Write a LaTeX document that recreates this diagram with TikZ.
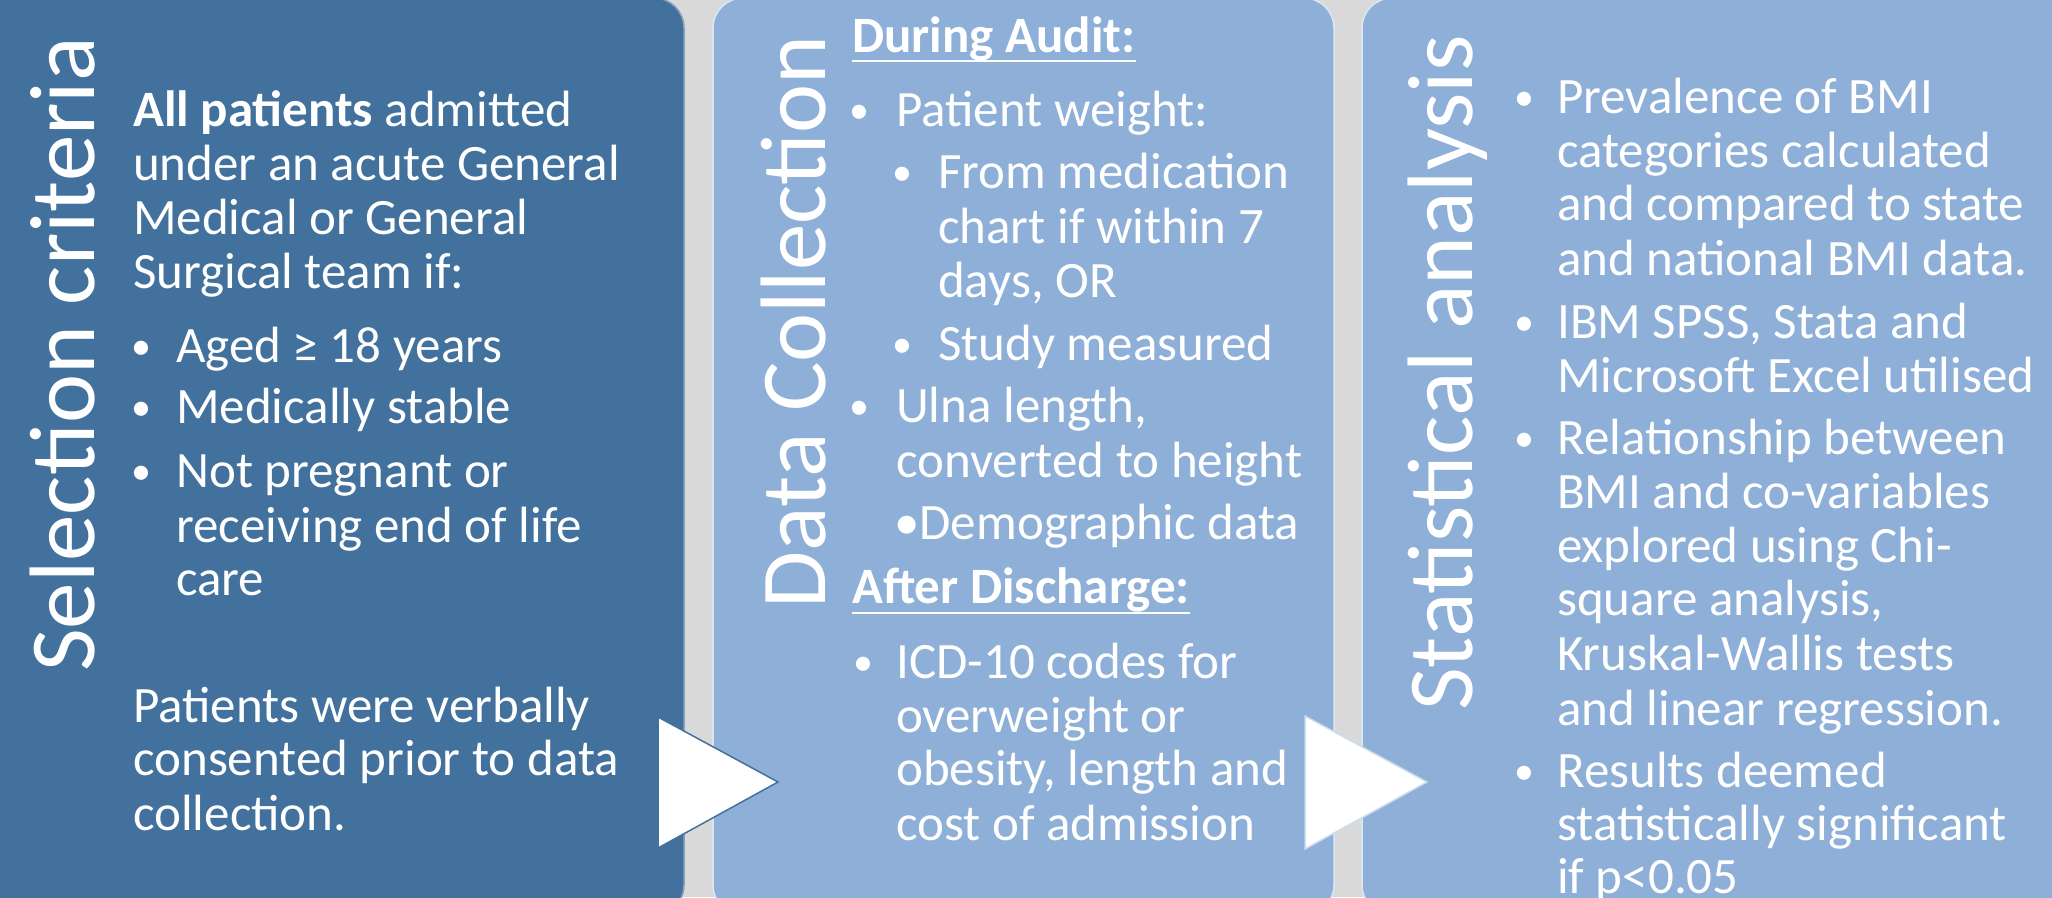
\documentclass[tikz,border=0pt]{standalone}
\usepackage{fontspec}
\setmainfont{Carlito}
\definecolor{darkbox}{RGB}{65,113,156}
\definecolor{lightbox}{RGB}{142,175,215}
\definecolor{gapgray}{RGB}{217,217,217}
\begin{document}
\begin{tikzpicture}[x=1pt,y=-1pt,
  panel/.style={rounded corners=30pt, line width=1.5pt},
  titletext/.style={text=white, font=\fontsize{93}{100}\selectfont, inner sep=0pt, rotate=90, anchor=base east},
  body/.style={text=white, font=\fontsize{51}{54}\selectfont, inner sep=0pt, anchor=base west},
  head/.style={body, font=\fontsize{51}{54}\selectfont\bfseries},
  bul/.style={text=white, font=\fontsize{40}{42}\selectfont, inner sep=0pt, anchor=base, yshift=3pt},
  uline/.style={draw=white, line width=2.5pt},
  pointer/.style={fill=white, line width=1.5pt, line join=miter}]

\useasboundingbox (0,0) rectangle (2052,897);
\clip (0,0) rectangle (2052,897);
\fill[gapgray] (0,0) rectangle (2052,897);

% three panels
\draw[panel, fill=darkbox, draw=white!35!darkbox] (-40,-2) rectangle (684,915);
\draw[panel, fill=lightbox, draw=white!70!lightbox] (713,-2) rectangle (1334,915);
\draw[panel, fill=lightbox, draw=white!70!lightbox] (1362,-2) rectangle (2100,915);

% rotated panel titles
\node[titletext] (t1) at (94,37) {Selection criteria};
\node[titletext] (t2) at (825,35) {Data Collection};
\node[titletext] (t3) at (1472,35) {Statistical analysis};

% panel 1: selection criteria
\foreach \yy/\txt [count=\k] in {126/{\textbf{All patients} admitted}, 180/{under an acute General},
    234/{Medical or General}, 288/{Surgical team if:},
    722/{Patients were verbally}, 775/{consented prior to data}, 830/{collection.}}
  \node[body] (sp\k) at (133,\yy) {\txt};
\foreach \yy [count=\k] in {362,423,487}
  \node[bul] (sb\k) at (141,\yy) {•};
\foreach \yy/\txt [count=\k] in {362/{Aged ≥ 18 years}, 423/{Medically stable}, 487/{Not pregnant or},
    542/{receiving end of life}, 595/{care}}
  \node[body] (si\k) at (176,\yy) {\txt};

% panel 2: data collection
\node[head] (h1) at (852,52) {During Audit:};
\draw[uline] ([yshift=-9pt]h1.base west) -- ([yshift=-9pt]h1.base east);
\node[head] (h2) at (852,603) {After Discharge:};
\draw[uline] ([yshift=-10pt]h2.base west) -- ([yshift=-10pt]h2.base east);
\foreach \yy/\xx [count=\k] in {126/859, 360/902, 188/902, 422/859, 678/863}
  \node[bul] (db\k) at (\xx,\yy) {•};
\foreach \yy/\txt [count=\k] in {126/{Patient weight:}, 422/{Ulna length,}, 477/{converted to height},
    678/{ICD-10 codes for}, 732/{overweight or}, 785/{obesity, length and}, 840/{cost of admission}}
  \node[body] (dm\k) at (896,\yy) {\txt};
\foreach \yy/\txt [count=\k] in {188/{From medication}, 243/{chart if within 7}, 297/{days, OR}, 360/{Study measured}}
  \node[body] (ds\k) at (938,\yy) {\txt};
\node[body] (dd) at (894,539) {•Demographic data};

% panel 3: statistical analysis
\foreach \yy [count=\k] in {113,338,454,787}
  \node[bul] (ab\k) at (1524,\yy) {•};
\foreach \yy/\txt [count=\k] in {113/{Prevalence of BMI}, 167/{categories calculated}, 220/{and compared to state},
    275/{and national BMI data.}, 338/{IBM SPSS, Stata and}, 392/{Microsoft Excel utilised},
    454/{Relationship between}, 508/{BMI and co-variables}, 562/{explored using Chi-},
    615/{square analysis,}, 670/{Kruskal-Wallis tests}, 725/{and linear regression.},
    787/{Results deemed}, 840/{statistically significant}, 893/{if p<0.05}}
  \node[body] (at\k) at (1557,\yy) {\txt};

% step pointers between panels
\coordinate (p1a) at (658,717); \coordinate (p1b) at (778,782); \coordinate (p1c) at (658,848);
\draw[pointer, draw=darkbox] (p1a) -- (p1b) -- (p1c) -- cycle;
\coordinate (p2a) at (1305,716); \coordinate (p2b) at (1427,782); \coordinate (p2c) at (1305,849);
\draw[pointer, draw=white!55!lightbox] (p2a) -- (p2b) -- (p2c) -- cycle;
\end{tikzpicture}
\end{document}
